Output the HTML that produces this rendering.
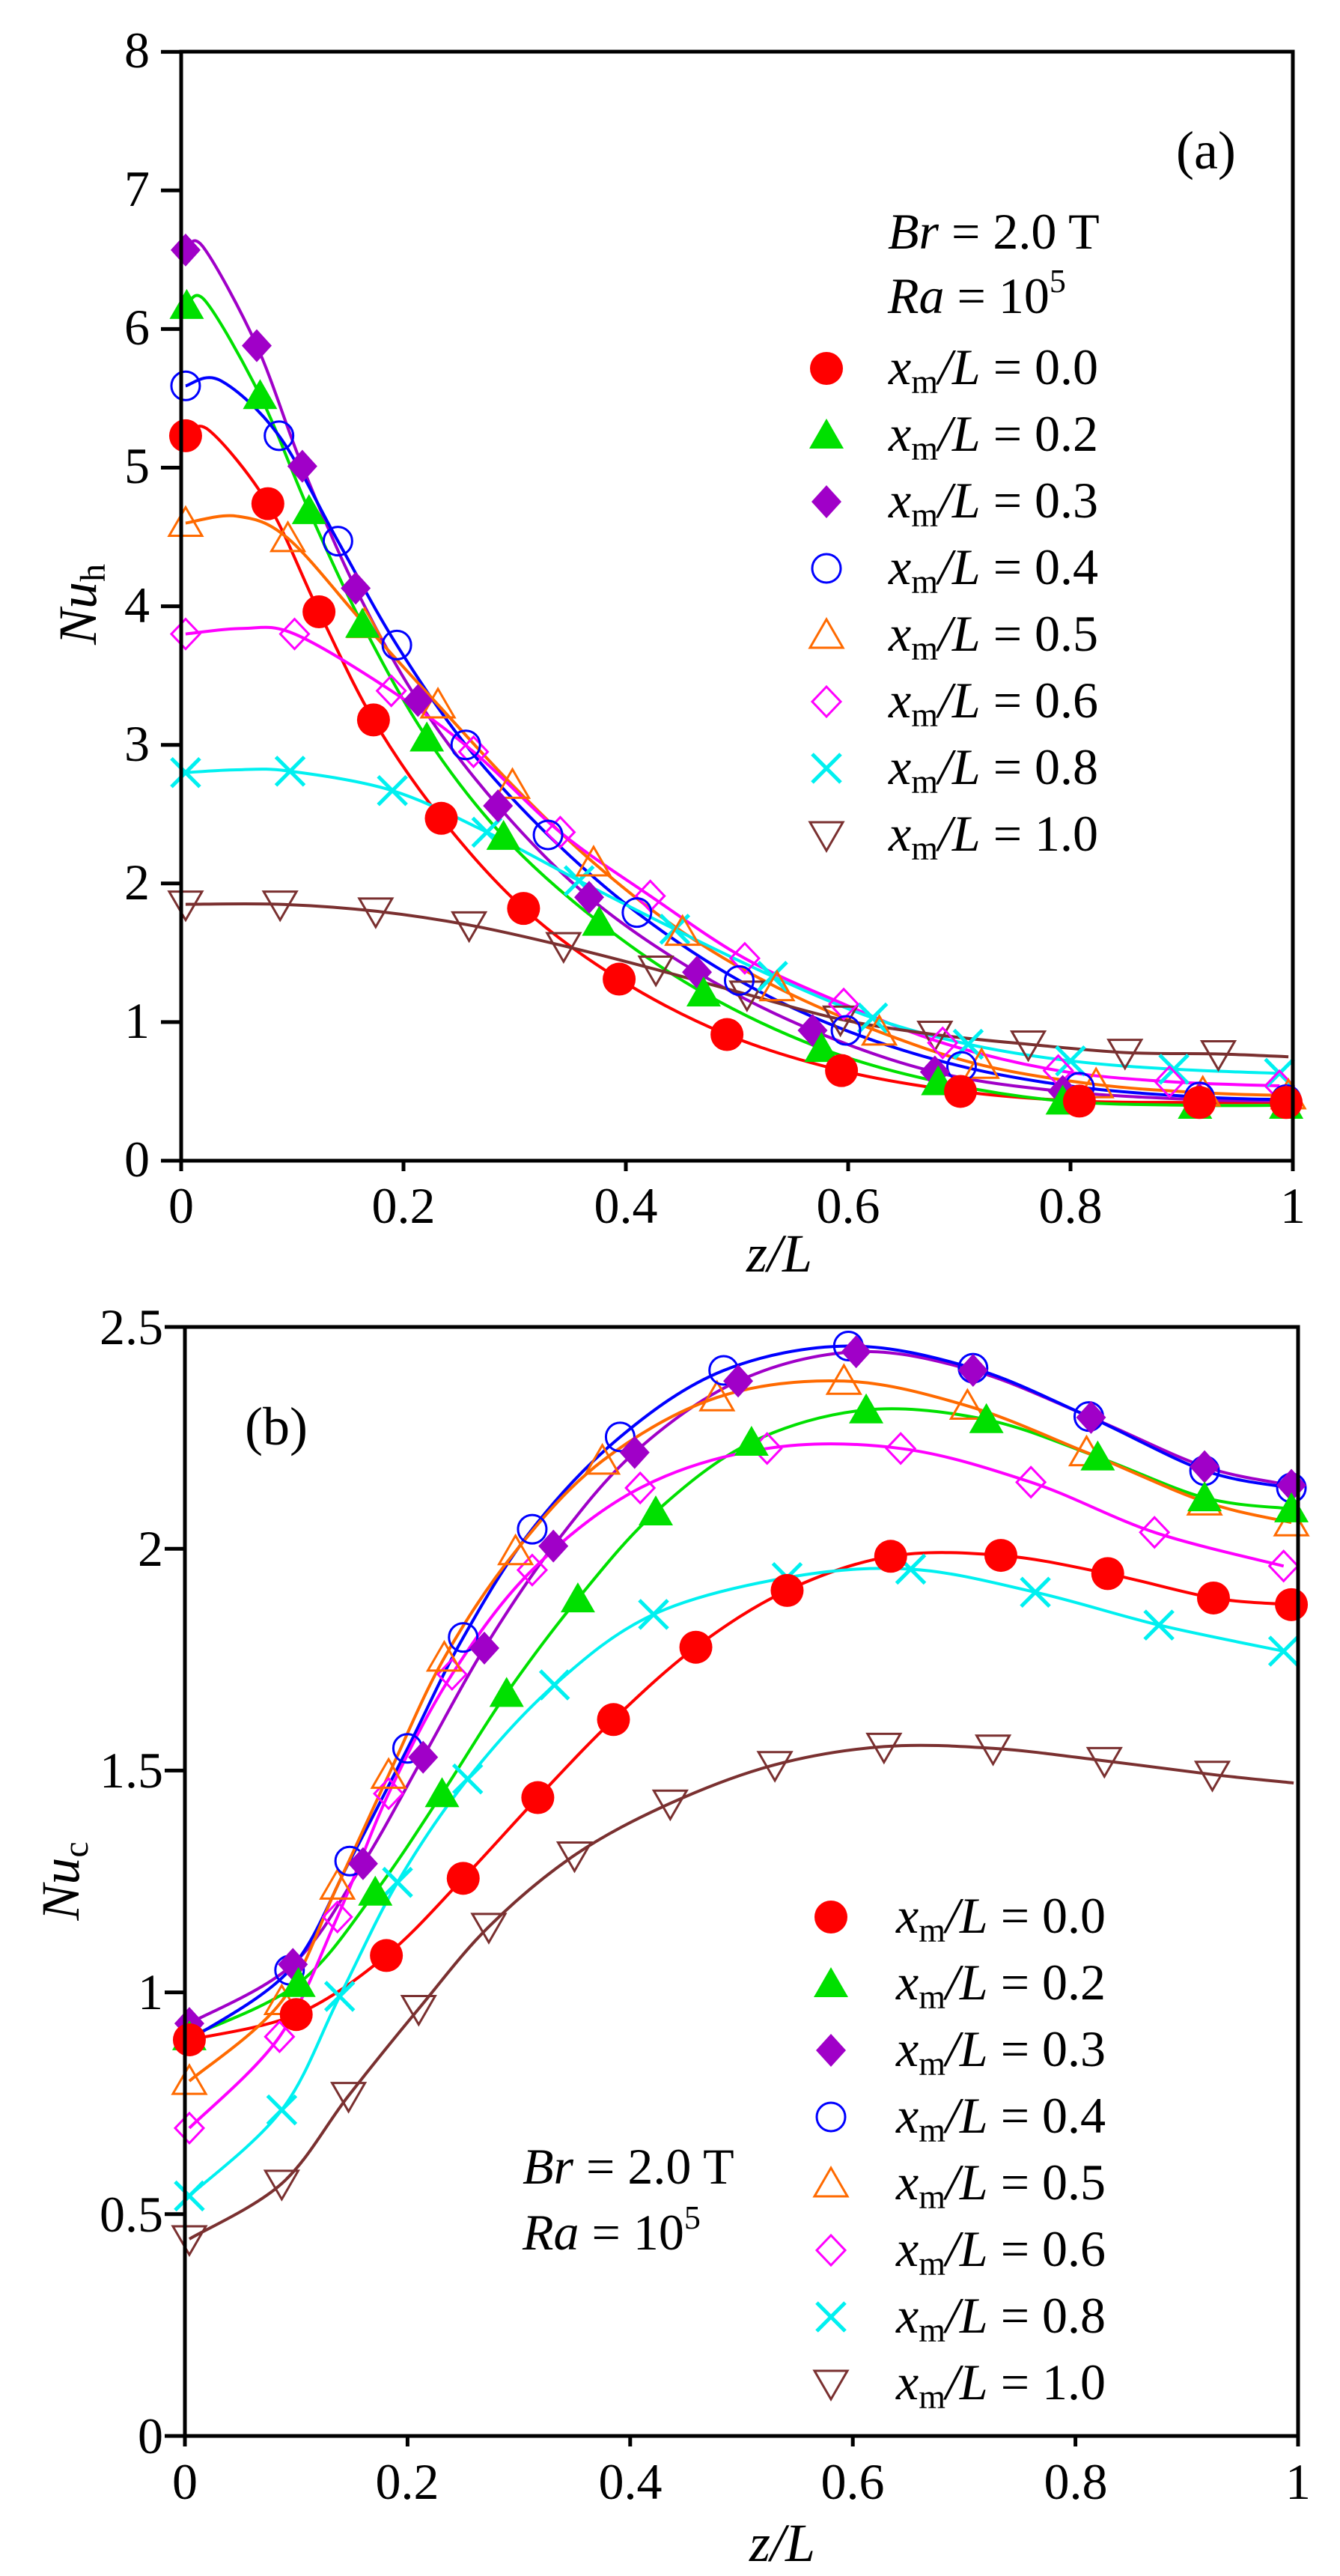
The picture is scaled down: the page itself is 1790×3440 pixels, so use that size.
<!DOCTYPE html>
<html><head><meta charset="utf-8">
<style>
html,body{margin:0;padding:0;background:#fff;}
svg{display:block;font-family:"Liberation Serif","Times New Roman",serif;}
svg text{font-family:"Liberation Serif","Times New Roman",serif;fill:#000;}
</style></head>
<body>
<svg id="s" width="1790" height="3440" viewBox="0 0 1790 3440" xmlns="http://www.w3.org/2000/svg" font-family="Liberation Serif, serif">
<rect width="1790" height="3440" fill="#fff"/>
<g id="g"></g>
<g font-family="Liberation Serif, serif">
<g font-size="68">
<text x="200" y="1571" text-anchor="end">0</text>
<text x="200" y="1386" text-anchor="end">1</text>
<text x="200" y="1201" text-anchor="end">2</text>
<text x="200" y="1016" text-anchor="end">3</text>
<text x="200" y="831" text-anchor="end">4</text>
<text x="200" y="645" text-anchor="end">5</text>
<text x="200" y="460" text-anchor="end">6</text>
<text x="200" y="275" text-anchor="end">7</text>
<text x="200" y="90" text-anchor="end">8</text>
<text x="242" y="1633" text-anchor="middle">0</text>
<text x="539" y="1633" text-anchor="middle">0.2</text>
<text x="836" y="1633" text-anchor="middle">0.4</text>
<text x="1133" y="1633" text-anchor="middle">0.6</text>
<text x="1430" y="1633" text-anchor="middle">0.8</text>
<text x="1727" y="1633" text-anchor="middle">1</text>
</g>
<text x="1041" y="1698" font-size="72" text-anchor="middle" font-style="italic">z/L</text>
<text transform="translate(128,807) rotate(-90)" font-size="72" text-anchor="middle"><tspan font-style="italic">Nu</tspan><tspan font-size="48" dy="12">h</tspan></text>
<text x="1571" y="225" font-size="72">(a)</text>
<text x="1186" y="332" font-size="68"><tspan font-style="italic">Br</tspan> = 2.0 T</text>
<text x="1186" y="418" font-size="68"><tspan font-style="italic">Ra</tspan> = 10<tspan font-size="44" dy="-28">5</tspan></text>

<g font-size="68">
<text x="218" y="3276" text-anchor="end">0</text>
<text x="218" y="2980" text-anchor="end">0.5</text>
<text x="218" y="2683" text-anchor="end">1</text>
<text x="218" y="2387" text-anchor="end">1.5</text>
<text x="218" y="2091" text-anchor="end">2</text>
<text x="218" y="1795" text-anchor="end">2.5</text>
<text x="247" y="3337" text-anchor="middle">0</text>
<text x="544" y="3337" text-anchor="middle">0.2</text>
<text x="842" y="3337" text-anchor="middle">0.4</text>
<text x="1139" y="3337" text-anchor="middle">0.6</text>
<text x="1437" y="3337" text-anchor="middle">0.8</text>
<text x="1734" y="3337" text-anchor="middle">1</text>
</g>
<text x="1045" y="3420" font-size="72" text-anchor="middle" font-style="italic">z/L</text>
<text transform="translate(105,2512) rotate(-90)" font-size="72" text-anchor="middle"><tspan font-style="italic">Nu</tspan><tspan font-size="48" dy="12">c</tspan></text>
<text x="327" y="1929" font-size="72">(b)</text>
<text x="698" y="2916" font-size="68"><tspan font-style="italic">Br</tspan> = 2.0 T</text>
<text x="698" y="3004" font-size="68"><tspan font-style="italic">Ra</tspan> = 10<tspan font-size="44" dy="-28">5</tspan></text>
<g id="leg"></g>
</g>
</svg>
<script>
var NS="http://www.w3.org/2000/svg";
var g=document.getElementById('g');
function el(n,a,p){var e=document.createElementNS(NS,n);for(var k in a)e.setAttribute(k,a[k]);(p||g).appendChild(e);return e;}
var cols=['#ff0000','#00e000','#a000c8','#0000ff','#ff6a00','#ff00ff','#00f0f0','#7a3030'];
var types=['fc','ft','fd','oc','ot','od','x','it'];
function marker(t,x,y,c,p){
 if(t=='fc')el('circle',{cx:x,cy:y,r:22,fill:c},p);
 else if(t=='oc')el('circle',{cx:x,cy:y,r:19,fill:'none',stroke:c,'stroke-width':3},p);
 else if(t=='ft')el('polygon',{points:(x)+','+(y-22)+' '+(x+23)+','+(y+18)+' '+(x-23)+','+(y+18),fill:c},p);
 else if(t=='ot')el('polygon',{points:(x)+','+(y-21)+' '+(x+22)+','+(y+17)+' '+(x-22)+','+(y+17),fill:'none',stroke:c,'stroke-width':3},p);
 else if(t=='it')el('polygon',{points:(x)+','+(y+21)+' '+(x+22)+','+(y-17)+' '+(x-22)+','+(y-17),fill:'none',stroke:c,'stroke-width':3},p);
 else if(t=='fd')el('polygon',{points:(x)+','+(y-22)+' '+(x+20)+','+(y)+' '+(x)+','+(y+22)+' '+(x-20)+','+y,fill:c},p);
 else if(t=='od')el('polygon',{points:(x)+','+(y-20)+' '+(x+19)+','+(y)+' '+(x)+','+(y+20)+' '+(x-19)+','+y,fill:'none',stroke:c,'stroke-width':3},p);
 else if(t=='x'){el('path',{d:'M'+(x-19)+' '+(y-19)+'L'+(x+19)+' '+(y+19)+'M'+(x+19)+' '+(y-19)+'L'+(x-19)+' '+(y+19),stroke:c,'stroke-width':5,fill:'none'},p);}
}
function spline(pts){
 var d='M'+pts[0][0].toFixed(1)+' '+pts[0][1].toFixed(1);
 for(var i=0;i<pts.length-1;i++){
  var p0=pts[i>0?i-1:i],p1=pts[i],p2=pts[i+1],p3=pts[i+2<pts.length?i+2:i+1];
  var c1=[p1[0]+(p2[0]-p0[0])/6,p1[1]+(p2[1]-p0[1])/6],c2=[p2[0]-(p3[0]-p1[0])/6,p2[1]-(p3[1]-p1[1])/6];
  d+='C'+c1[0].toFixed(1)+' '+c1[1].toFixed(1)+' '+c2[0].toFixed(1)+' '+c2[1].toFixed(1)+' '+p2[0].toFixed(1)+' '+p2[1].toFixed(1);
 }
 return d;
}
var A=[
 [[[0.004,5.23],[0.078,4.74],[0.124,3.96],[0.173,3.18],[0.234,2.47],[0.308,1.82],[0.394,1.31],[0.491,0.91],[0.594,0.65],[0.701,0.50],[0.808,0.43],[0.916,0.42],[0.994,0.42]],[[0.025,5.27]]],
 [[[0.005,6.17],[0.071,5.52],[0.115,4.69],[0.163,3.87],[0.221,3.05],[0.29,2.34],[0.376,1.72],[0.47,1.21],[0.576,0.81],[0.681,0.57],[0.793,0.43],[0.912,0.40],[0.994,0.40]],[[0.022,6.2]]],
 [[[0.004,6.57],[0.068,5.88],[0.109,5.01],[0.157,4.13],[0.213,3.32],[0.285,2.56],[0.367,1.90],[0.464,1.36],[0.568,0.94],[0.678,0.64],[0.793,0.50],[0.916,0.44],[0.994,0.43]],[[0.02,6.59]]],
 [[[0.004,5.59],[0.088,5.23],[0.141,4.47],[0.194,3.72],[0.256,3.00],[0.33,2.35],[0.41,1.79],[0.502,1.30],[0.598,0.94],[0.702,0.68],[0.808,0.53],[0.916,0.46],[0.994,0.44]],[[0.035,5.63]]],
 [[[0.004,4.60],[0.096,4.49],[0.165,3.87],[0.231,3.29],[0.298,2.71],[0.371,2.15],[0.451,1.65],[0.536,1.25],[0.628,0.93],[0.72,0.69],[0.823,0.55],[0.919,0.49],[0.996,0.47]],[[0.05,4.65]]],
 [[[0.004,3.80],[0.102,3.80],[0.189,3.39],[0.263,2.95],[0.341,2.37],[0.422,1.91],[0.507,1.46],[0.596,1.13],[0.685,0.85],[0.789,0.65],[0.889,0.57],[0.988,0.54]],[[0.055,3.84]]],
 [[[0.004,2.80],[0.098,2.81],[0.19,2.67],[0.275,2.37],[0.358,2.02],[0.444,1.67],[0.532,1.33],[0.622,1.03],[0.708,0.84],[0.8,0.72],[0.893,0.66],[0.988,0.63]],[[0.05,2.82]]],
 [[[0.004,1.85],[0.089,1.85],[0.175,1.80],[0.259,1.70],[0.344,1.55],[0.427,1.38],[0.509,1.20],[0.593,1.02],[0.678,0.91],[0.762,0.84],[0.849,0.78],[0.933,0.77]],[[0.996,0.75]]]
];
var B=[
 [[[0.004,0.893],[0.1,0.95],[0.181,1.083],[0.25,1.257],[0.317,1.439],[0.385,1.615],[0.459,1.778],[0.541,1.906],[0.634,1.983],[0.733,1.985],[0.829,1.944],[0.924,1.889],[0.994,1.874]],[]],
 [[[0.004,0.90],[0.102,1.02],[0.171,1.226],[0.231,1.448],[0.289,1.674],[0.353,1.887],[0.423,2.083],[0.509,2.24],[0.612,2.313],[0.72,2.291],[0.82,2.207],[0.916,2.115],[0.994,2.09]],[]],
 [[[0.004,0.93],[0.097,1.063],[0.16,1.29],[0.214,1.53],[0.269,1.776],[0.331,2.006],[0.404,2.217],[0.497,2.378],[0.603,2.444],[0.708,2.402],[0.814,2.296],[0.916,2.185],[0.994,2.143]],[]],
 [[[0.004,0.893],[0.094,1.05],[0.148,1.296],[0.2,1.55],[0.25,1.80],[0.312,2.044],[0.391,2.252],[0.484,2.402],[0.596,2.457],[0.708,2.407],[0.812,2.298],[0.916,2.176],[0.994,2.137]],[]],
 [[[0.004,0.80],[0.087,0.98],[0.137,1.24],[0.183,1.49],[0.233,1.754],[0.297,1.994],[0.375,2.198],[0.478,2.341],[0.592,2.378],[0.703,2.322],[0.81,2.217],[0.916,2.106],[0.994,2.059]],[]],
 [[[0.004,0.694],[0.085,0.90],[0.137,1.17],[0.183,1.448],[0.24,1.717],[0.312,1.952],[0.409,2.137],[0.523,2.226],[0.643,2.226],[0.76,2.15],[0.871,2.037],[0.987,1.961]],[]],
 [[[0.004,0.541],[0.087,0.735],[0.139,0.991],[0.191,1.248],[0.254,1.481],[0.332,1.693],[0.421,1.852],[0.541,1.935],[0.652,1.954],[0.764,1.902],[0.875,1.828],[0.987,1.769]],[]],
 [[[0.004,0.444],[0.087,0.569],[0.147,0.767],[0.21,0.963],[0.273,1.148],[0.35,1.309],[0.436,1.426],[0.53,1.513],[0.628,1.554],[0.726,1.55],[0.826,1.522],[0.923,1.491]],[[0.996,1.472]]]
];
function panel(D,X,Y){
 var gl=el('g',{});
 var gm=el('g',{});
 for(var i=0;i<8;i++){
  var pts=D[i][0].concat(D[i][1]).sort(function(a,b){return a[0]-b[0];});
  el('path',{d:spline(pts.map(function(p){return [X(p[0]),Y(p[1])];})),fill:'none',stroke:cols[i],'stroke-width':4},gl);
 }
 for(var i=7;i>=0;i--){
  D[i][0].forEach(function(p){marker(types[i],X(p[0]),Y(p[1]),cols[i],gm);});
 }
}
panel(A,function(z){return 242+1485*z;},function(v){return 1550-185.1*v;});
panel(B,function(z){return 247+1487*z;},function(v){return 3253-592.4*v;});
function axes(x0,y0,x1,y1,yt,xt){
 el('rect',{x:x0,y:y0,width:x1-x0,height:y1-y0,fill:'none',stroke:'#000','stroke-width':5});
 yt.forEach(function(y){el('line',{x1:x0-27,y1:y,x2:x0,y2:y,stroke:'#000','stroke-width':5});});
 xt.forEach(function(x){el('line',{x1:x,y1:y1,x2:x,y2:y1+14,stroke:'#000','stroke-width':5});});
}
var yt=[],xt=[];for(var k=0;k<=8;k++)yt.push(1550-185.1*k);for(k=0;k<=5;k++)xt.push(242+297*k);
axes(242,69,1727,1550,yt,xt);
yt=[];xt=[];for(k=0;k<=5;k++)yt.push(3253-296.2*k);for(k=0;k<=5;k++)xt.push(247+297.4*k);
axes(247,1772,1734,3253,yt,xt);
var leg=document.getElementById('leg');
var labs=['0.0','0.2','0.3','0.4','0.5','0.6','0.8','1.0'];
function legend(mx,tx,y0){
 for(var i=0;i<8;i++){
  var y=y0+i*89;
  marker(types[i],mx,y,cols[i],leg);
  var t=el('text',{x:tx,y:y+21,'font-size':68,'font-family':'Liberation Serif, serif'},leg);
  t.innerHTML='<tspan font-style="italic">x</tspan><tspan font-size="46" dy="12">m</tspan><tspan dy="-12" font-style="italic">/L</tspan> = '+labs[i];
 }
}
legend(1104,1187,492);
legend(1110,1197,2560);
</script>
</body></html>
